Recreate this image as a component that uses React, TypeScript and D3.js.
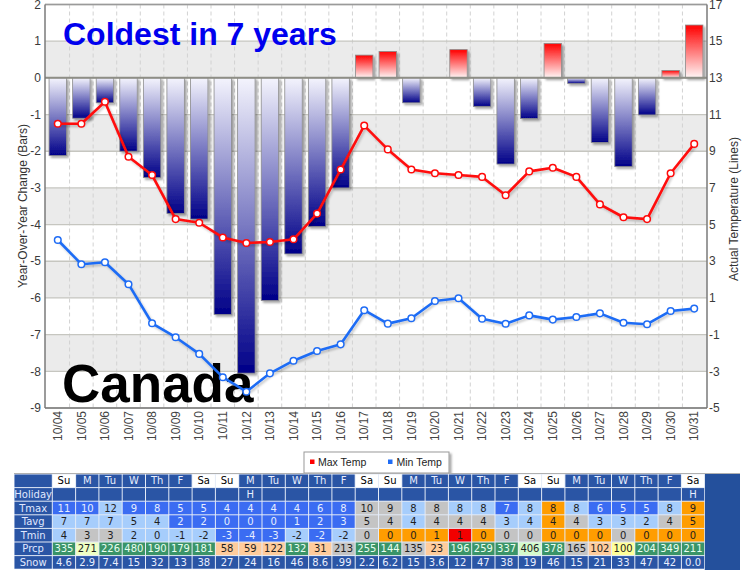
import * as d3 from 'd3';

const dates = ['10/04', '10/05', '10/06', '10/07', '10/08', '10/09', '10/10', '10/11', '10/12', '10/13', '10/14', '10/15', '10/16', '10/17',
  '10/18', '10/19', '10/20', '10/21', '10/22', '10/23', '10/24', '10/25', '10/26', '10/27', '10/28', '10/29', '10/30', '10/31'];

// year-over-year change (left axis, bars)
const yoyChange = [-2.12, -1.1, -0.68, -2.0, -2.72, -3.7, -3.85, -6.45, -8.05, -6.07, -4.8, -4.05, -3.0, 0.62,
  0.72, -0.68, 0, 0.77, -0.78, -2.35, -1.11, 0.94, -0.15, -1.76, -2.42, -1.01, 0.2, 1.44];

// actual temperatures (right axis, lines)
const maxTemp = [10.5, 10.5, 11.7, 8.7, 7.7, 5.3, 5.1, 4.3, 4.0, 4.05, 4.2, 5.6, 8.0, 10.4,
  9.1, 8.0, 7.8, 7.7, 7.6, 6.6, 7.9, 8.1, 7.6, 6.1, 5.4, 5.3, 7.8, 9.4];
const minTemp = [4.16, 2.84, 2.95, 1.75, -0.38, -1.14, -2.05, -3.32, -4.11, -3.11, -2.42, -1.89, -1.53, 0.33,
  -0.4, -0.11, 0.83, 0.98, -0.13, -0.41, 0.05, -0.18, -0.04, 0.16, -0.35, -0.43, 0.29, 0.42];

const leftTicks = [2, 1, 0, -1, -2, -3, -4, -5, -6, -7, -8, -9];
const rightTicks = [17, 15, 13, 11, 9, 7, 5, 3, 1, -1, -3, -5];

// table below the chart
const dayNames = ['Su', 'M', 'Tu', 'W', 'Th', 'F', 'Sa', 'Su', 'M', 'Tu', 'W', 'Th', 'F', 'Sa',
  'Su', 'M', 'Tu', 'W', 'Th', 'F', 'Sa', 'Su', 'M', 'Tu', 'W', 'Th', 'F', 'Sa'];
const holidays = ['', '', '', '', '', '', '', '', 'H', '', '', '', '', '', '', '', '', '', '', '', '', '', '', '', '', '', '', 'H'];
const tmaxVals = ['11', '10', '12', '9', '8', '5', '5', '4', '4', '4', '4', '6', '8', '10', '9', '8', '8', '8', '8', '7', '8', '8', '8', '6', '5', '5', '8', '9'];
const tmaxCls = ['B', 'B', 'L', 'B', 'B', 'B', 'B', 'B', 'B', 'B', 'B', 'B', 'B', 'G', 'G', 'L', 'G', 'L', 'L', 'B', 'L', 'O', 'L', 'B', 'B', 'B', 'L', 'O'];
const tavgVals = ['7', '7', '7', '5', '4', '2', '2', '0', '0', '0', '1', '2', '3', '5', '4', '4', '4', '4', '4', '3', '4', '4', '4', '3', '3', '2', '4', '5'];
const tavgCls = ['L', 'L', 'L', 'L', 'L', 'B', 'B', 'B', 'B', 'B', 'B', 'B', 'B', 'G', 'G', 'L', 'G', 'G', 'G', 'L', 'L', 'O', 'G', 'L', 'L', 'L', 'G', 'O'];
const tminVals = ['4', '3', '3', '2', '0', '-1', '-2', '-3', '-4', '-3', '-2', '-2', '-2', '0', '0', '0', '1', '1', '0', '0', '0', '0', '0', '0', '0', '0', '0', '0'];
const tminCls = ['L', 'G', 'G', 'L', 'L', 'L', 'L', 'B', 'B', 'B', 'L', 'B', 'L', 'G', 'O', 'O', 'O', 'R', 'O', 'G', 'G', 'O', 'O', 'O', 'G', 'O', 'O', 'O'];
const prcpVals = ['335', '271', '226', '480', '190', '179', '181', '58', '59', '122', '132', '31', '213', '255', '144', '135', '23', '196', '259', '337', '406', '378', '165', '102', '100', '204', '349', '211'];
const prcpCls = ['g', 'k', 'g', 'g', 'g', 'g', 'g', 'p', 'p', 'p', 'g', 'p', 'G', 'g', 'g', 'G', 'p', 'g', 'g', 'g', 'l', 'g', 'G', 'p', 'y', 'g', 'g', 'g'];
const snowVals = ['4.6', '2.9', '7.4', '15', '32', '13', '38', '27', '24', '16', '46', '8.6', '.99', '2.2', '6.2', '15', '3.6', '12', '47', '38', '19', '46', '15', '21', '33', '47', '42', '0.0'];

const cellFill: Record<string, string> = {
  B: '#3b6cf2', L: '#a6cdfc', G: '#c4c4c4', O: '#ff9d00', R: '#f20000',
  g: '#3a9468', p: '#ffcc9c', y: '#ffff99', l: '#d4fbcc', k: '#eeffc4',
  N: '#2a55a5', W: '#ffffff',
};
const cellText: Record<string, string> = { B: '#e6eeff', g: '#e8fff0', N: '#e8eeff' };

const ARIAL = '"Liberation Sans", Arial, sans-serif';
const VERDANA = 'Verdana, "DejaVu Sans", sans-serif';

export default function App() {
  const width = 754;
  const height = 570;
  const plot = { left: 45, right: 707, top: 4.5, bottom: 408 };

  const x = d3.scaleBand<string>()
    .domain(dates)
    .range([46, 706])
    .paddingInner(0.26)
    .paddingOuter(0.13);
  const cx = (i: number) => (x(dates[i]) ?? 0) + x.bandwidth() / 2;

  const yL = d3.scaleLinear().domain([-9, 2]).range([plot.bottom, plot.top]);
  const yR = d3.scaleLinear().domain([-5, 17]).range([plot.bottom, plot.top]);

  const line = d3.line<number>()
    .x((_, i) => cx(i))
    .y(d => yR(d));

  const bands = d3.range(-8, 2, 2); // gray bands from v to v-1
  const boundaries = dates.slice(0, -1).map((_, i) => cx(i) + x.step() / 2);

  // table geometry
  const tblX = 14;
  const labelW = 38.3;
  const cellW = 23.3;
  const tblY = 474;
  const rowH = 13.6;
  const cellX = (i: number) => tblX + labelW + i * cellW;

  const rows: { label: string; vals: string[]; cls: string[] }[] = [
    { label: '', vals: dayNames, cls: dayNames.map(d => (d === 'Sa' || d === 'Su' ? 'W' : 'N')) },
    { label: 'Holiday', vals: holidays, cls: holidays.map(() => 'N') },
    { label: 'Tmax', vals: tmaxVals, cls: tmaxCls },
    { label: 'Tavg', vals: tavgVals, cls: tavgCls },
    { label: 'Tmin', vals: tminVals, cls: tminCls },
    { label: 'Prcp', vals: prcpVals, cls: prcpCls },
    { label: 'Snow', vals: snowVals, cls: snowVals.map(() => 'N') },
  ];
  const tblRight = cellX(dates.length);

  return (
    <div style={{ position: 'absolute', left: 0, top: 0 }}>
      <svg width={width} height={height} style={{ display: 'block', background: '#fff' }}>
        <defs>
          <linearGradient id="blueGrad" x1="0" y1="0" x2="0" y2="1">
            <stop offset="0%" stopColor="#f4f4fd" />
            <stop offset="100%" stopColor="#000088" />
          </linearGradient>
          <linearGradient id="redGrad" x1="0" y1="0" x2="0" y2="1">
            <stop offset="0%" stopColor="#ff0000" />
            <stop offset="100%" stopColor="#fff6f6" />
          </linearGradient>
          <filter id="shadow" x="-20%" y="-20%" width="150%" height="150%">
            <feDropShadow dx="2" dy="2" stdDeviation="1.2" floodColor="#000" floodOpacity="0.35" />
          </filter>
          <filter id="lineShadow" x="-5%" y="-5%" width="110%" height="120%">
            <feDropShadow dx="1.5" dy="2" stdDeviation="1" floodColor="#000" floodOpacity="0.22" />
          </filter>
        </defs>

        {/* plot background bands */}
        {bands.map(v => (
          <rect key={v} x={plot.left} y={yL(v + 1)} width={plot.right - plot.left}
            height={yL(v) - yL(v + 1)} fill="#ebebeb" />
        ))}

        {/* vertical dashed grid */}
        {boundaries.map((bx, i) => (
          <line key={i} x1={bx} x2={bx} y1={plot.top} y2={plot.bottom}
            stroke="#d2d2d2" strokeWidth={1} strokeDasharray="4,3" />
        ))}

        {/* horizontal grid */}
        {leftTicks.map(t => (
          <line key={t} x1={plot.left} x2={plot.right} y1={yL(t)} y2={yL(t)}
            stroke="#c6c6c0" strokeWidth={1.3} />
        ))}

        {/* bars */}
        <g filter="url(#shadow)">
          {yoyChange.map((v, i) => v === 0 ? null : (
            <rect key={i}
              x={x(dates[i])}
              y={v > 0 ? yL(v) : yL(0)}
              width={x.bandwidth()}
              height={Math.abs(yL(v) - yL(0))}
              fill={v > 0 ? 'url(#redGrad)' : 'url(#blueGrad)'}
              stroke="#8c8c8c" strokeWidth={0.8} />
          ))}
        </g>

        {/* zero line */}
        <line x1={plot.left} x2={plot.right} y1={yL(0)} y2={yL(0)} stroke="#8e8e86" strokeWidth={2} />

        {/* frame */}
        <line x1={plot.left} x2={plot.right} y1={plot.top} y2={plot.top} stroke="#9a9a9a" strokeWidth={1.5} />
        <line x1={plot.left} x2={plot.left} y1={plot.top} y2={plot.bottom} stroke="#7a7a7a" strokeWidth={1.5} />
        <line x1={plot.right} x2={plot.right} y1={plot.top} y2={plot.bottom} stroke="#7a7a7a" strokeWidth={1.5} />
        <line x1={plot.left} x2={plot.right} y1={plot.bottom} y2={plot.bottom} stroke="#7a7a7a" strokeWidth={1.5} />

        {/* overlay texts */}
        <text x={63} y={45} fill="#0000ee" fontFamily={ARIAL} fontWeight="bold" fontSize={32}>Coldest in 7 years</text>
        <text x={62} y={402} fill="#000" fontFamily={ARIAL} fontWeight="bold" fontSize={53}>Canada</text>

        {/* lines */}
        <g filter="url(#lineShadow)">
          <path d={line(maxTemp) ?? ''} fill="none" stroke="#ff0a0a" strokeWidth={2.6} strokeLinejoin="round" />
          <path d={line(minTemp) ?? ''} fill="none" stroke="#1f6cf5" strokeWidth={2.6} strokeLinejoin="round" />
        </g>
        {maxTemp.map((v, i) => (
          <circle key={'mx' + i} cx={cx(i)} cy={yR(v)} r={3.3} fill="#fff" stroke="#ff0a0a" strokeWidth={1.5} />
        ))}
        {minTemp.map((v, i) => (
          <circle key={'mn' + i} cx={cx(i)} cy={yR(v)} r={3.3} fill="#fff" stroke="#1f6cf5" strokeWidth={1.5} />
        ))}

        {/* left axis labels */}
        {leftTicks.map(t => (
          <text key={t} x={41} y={yL(t)} dy="0.35em" textAnchor="end" fontFamily={ARIAL}
            fontSize={12} fill="#3a3a3a">{t}</text>
        ))}
        {/* right axis labels */}
        {rightTicks.map(t => (
          <text key={t} x={709} y={yR(t)} dy="0.35em" textAnchor="start" fontFamily={ARIAL}
            fontSize={12} fill="#3a3a3a">{t}</text>
        ))}
        {/* x labels */}
        {dates.map((d, i) => (
          <text key={d} transform={`translate(${cx(i)},${411}) rotate(-90)`} dy="0.35em"
            textAnchor="end" fontFamily={ARIAL} fontSize={12} fill="#444">{d}</text>
        ))}

        {/* axis titles */}
        <text transform="translate(23,206) rotate(-90)" dy="0.35em" textAnchor="middle"
          fontFamily={ARIAL} fontSize={12} fill="#333">Year-Over-Year Change (Bars)</text>
        <text transform="translate(733.5,209) rotate(-90)" dy="0.35em" textAnchor="middle"
          fontFamily={ARIAL} fontSize={12} fill="#333">Actual Temperature (Lines)</text>

        {/* legend */}
        <rect x={304} y={452} width={145} height={21} fill="#fff" stroke="#999" strokeWidth={1} filter="url(#shadow)" />
        <rect x={310} y={459.5} width={4.5} height={4.5} fill="#ff0000" />
        <text x={318} y={462} dy="0.35em" fontFamily={ARIAL} fontSize={10.5} fill="#222">Max Temp</text>
        <rect x={388} y={459.5} width={4.5} height={4.5} fill="#1f6cf5" />
        <text x={396.5} y={462} dy="0.35em" fontFamily={ARIAL} fontSize={10.5} fill="#222">Min Temp</text>

        {/* table */}
        <line x1={tblX} x2={740} y1={tblY - 0.5} y2={tblY - 0.5} stroke="#b0b0b0" strokeWidth={1} />
        <rect x={tblRight} y={tblY} width={740 - tblRight} height={height - tblY} fill="#24509c" />
        <rect x={tblX} y={tblY} width={tblRight - tblX} height={rowH * rows.length} fill="#e4ebf7" />
        {rows.map((row, r) => {
          const ry = tblY + r * rowH;
          return (
            <g key={r}>
              <rect x={tblX + 0.5} y={ry + 0.5} width={labelW - 1} height={rowH - 1} fill={cellFill.N} />
              {row.label && (
                <text x={tblX + labelW / 2} y={ry + rowH / 2} dy="0.36em" textAnchor="middle"
                  fontFamily={VERDANA} fontSize={10} fill="#e0e8ff">{row.label}</text>
              )}
              {row.vals.map((v, i) => {
                const c = row.cls[i];
                return (
                  <g key={i}>
                    <rect x={cellX(i) + 0.5} y={ry + 0.5} width={cellW - 1} height={rowH - 1} fill={cellFill[c]} />
                    {v && (
                      <text x={cellX(i) + cellW / 2} y={ry + rowH / 2} dy="0.36em" textAnchor="middle"
                        fontFamily={VERDANA} fontSize={10}
                        fill={cellText[c] ?? (c === 'W' ? '#000' : '#1e1e1e')}>{v}</text>
                    )}
                  </g>
                );
              })}
            </g>
          );
        })}
      </svg>
    </div>
  );
}
